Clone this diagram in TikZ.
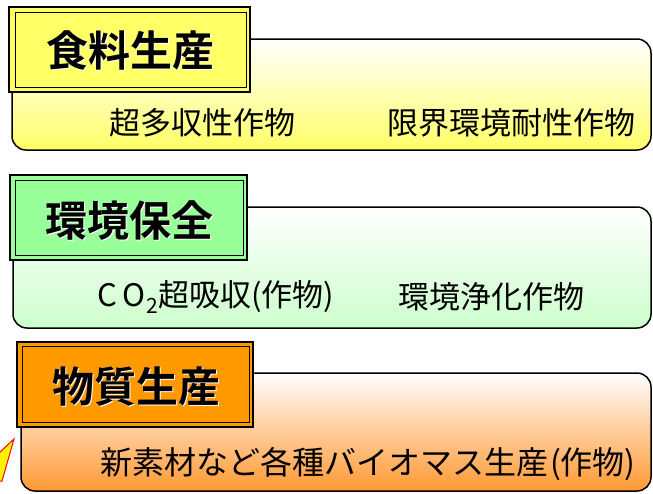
\documentclass[tikz,border=0pt]{standalone}
\usepackage{fontspec}
\usetikzlibrary{calc}
\setmainfont{Noto Sans CJK JP}
\newfontfamily\cjkbold{Noto Sans CJK JP Bold}
\definecolor{ylw}{HTML}{FFFF66}
\definecolor{grn}{HTML}{99FF99}
\definecolor{grnlt}{HTML}{CCFFCC}
\definecolor{org}{HTML}{FF9900}
\definecolor{orglt}{HTML}{FF9933}
\tikzset{
  panel/.style={draw=black, line width=1.5pt, rounded corners=14pt},
  titleouter/.style={draw=black, line width=1.6pt},
  titleinner/.style={draw=black, line width=1pt},
  titletext/.style={font=\cjkbold\fontsize{42}{46}\selectfont, inner sep=0pt, text=black},
  subtext/.style={font=\fontsize{31}{36}\selectfont, inner sep=0pt, text=black},
}
\newcommand{\shadowed}[1]{\makebox[0pt][l]{\hspace{1.6pt}\raisebox{-1.6pt}{\textcolor{white}{#1}}}#1}
\begin{document}
\begin{tikzpicture}[x=1pt,y=-1pt]
\useasboundingbox (0,0) rectangle (653,493);
\fill[white] (0,0) rectangle (653,493);

% ---------- food ----------
\path[panel, top color=white, bottom color=ylw] (12,39) rectangle (651,150);
\path[titleouter, fill=ylw] (9,7) rectangle (250,92);
\path[titleinner] (15,12) rectangle (246,87);
\node[titletext] (ytitle) at (130,51) {\shadowed{食料生産}};
\node[subtext] (y1) at (202,123) {超多収性作物};
\node[subtext] (y2) at (511,123) {限界環境耐性作物};

% ---------- environment ----------
\path[panel, top color=white, bottom color=grnlt] (13,207) rectangle (651,328);
\path[titleouter, fill=grn] (10,175) rectangle (247,260);
\path[titleinner] (15,180) rectangle (243,255);
\node[titletext] (gtitle) at (129,221) {\shadowed{環境保全}};
\node[subtext] (g1) at (216,297) {C\hspace{5pt}O\hspace{1pt}\raisebox{-7pt}{\fontsize{21}{22}\selectfont 2}超吸収(作物)};
\node[subtext] (g2) at (491,297) {環境浄化作物};

% ---------- material ----------
\path[panel, top color=white, bottom color=orglt] (21,373) rectangle (651,491);
\path[titleouter, fill=org] (17,342) rectangle (253,427);
\path[titleinner] (22,346) rectangle (249,422);
\node[titletext] (otitle) at (136,387) {\shadowed{物質生産}};
\node[subtext, font=\fontsize{32}{36}\selectfont] (o1) at (368,464) {新素材など各種バイオマス生産\hspace{2pt}(作物)};

% ---------- burst fragment ----------
\filldraw[fill=yellow, draw=red, line width=1pt] (-1,453) -- (14,439) -- (2,481) -- (-1,481) -- cycle;
\end{tikzpicture}
\end{document}
